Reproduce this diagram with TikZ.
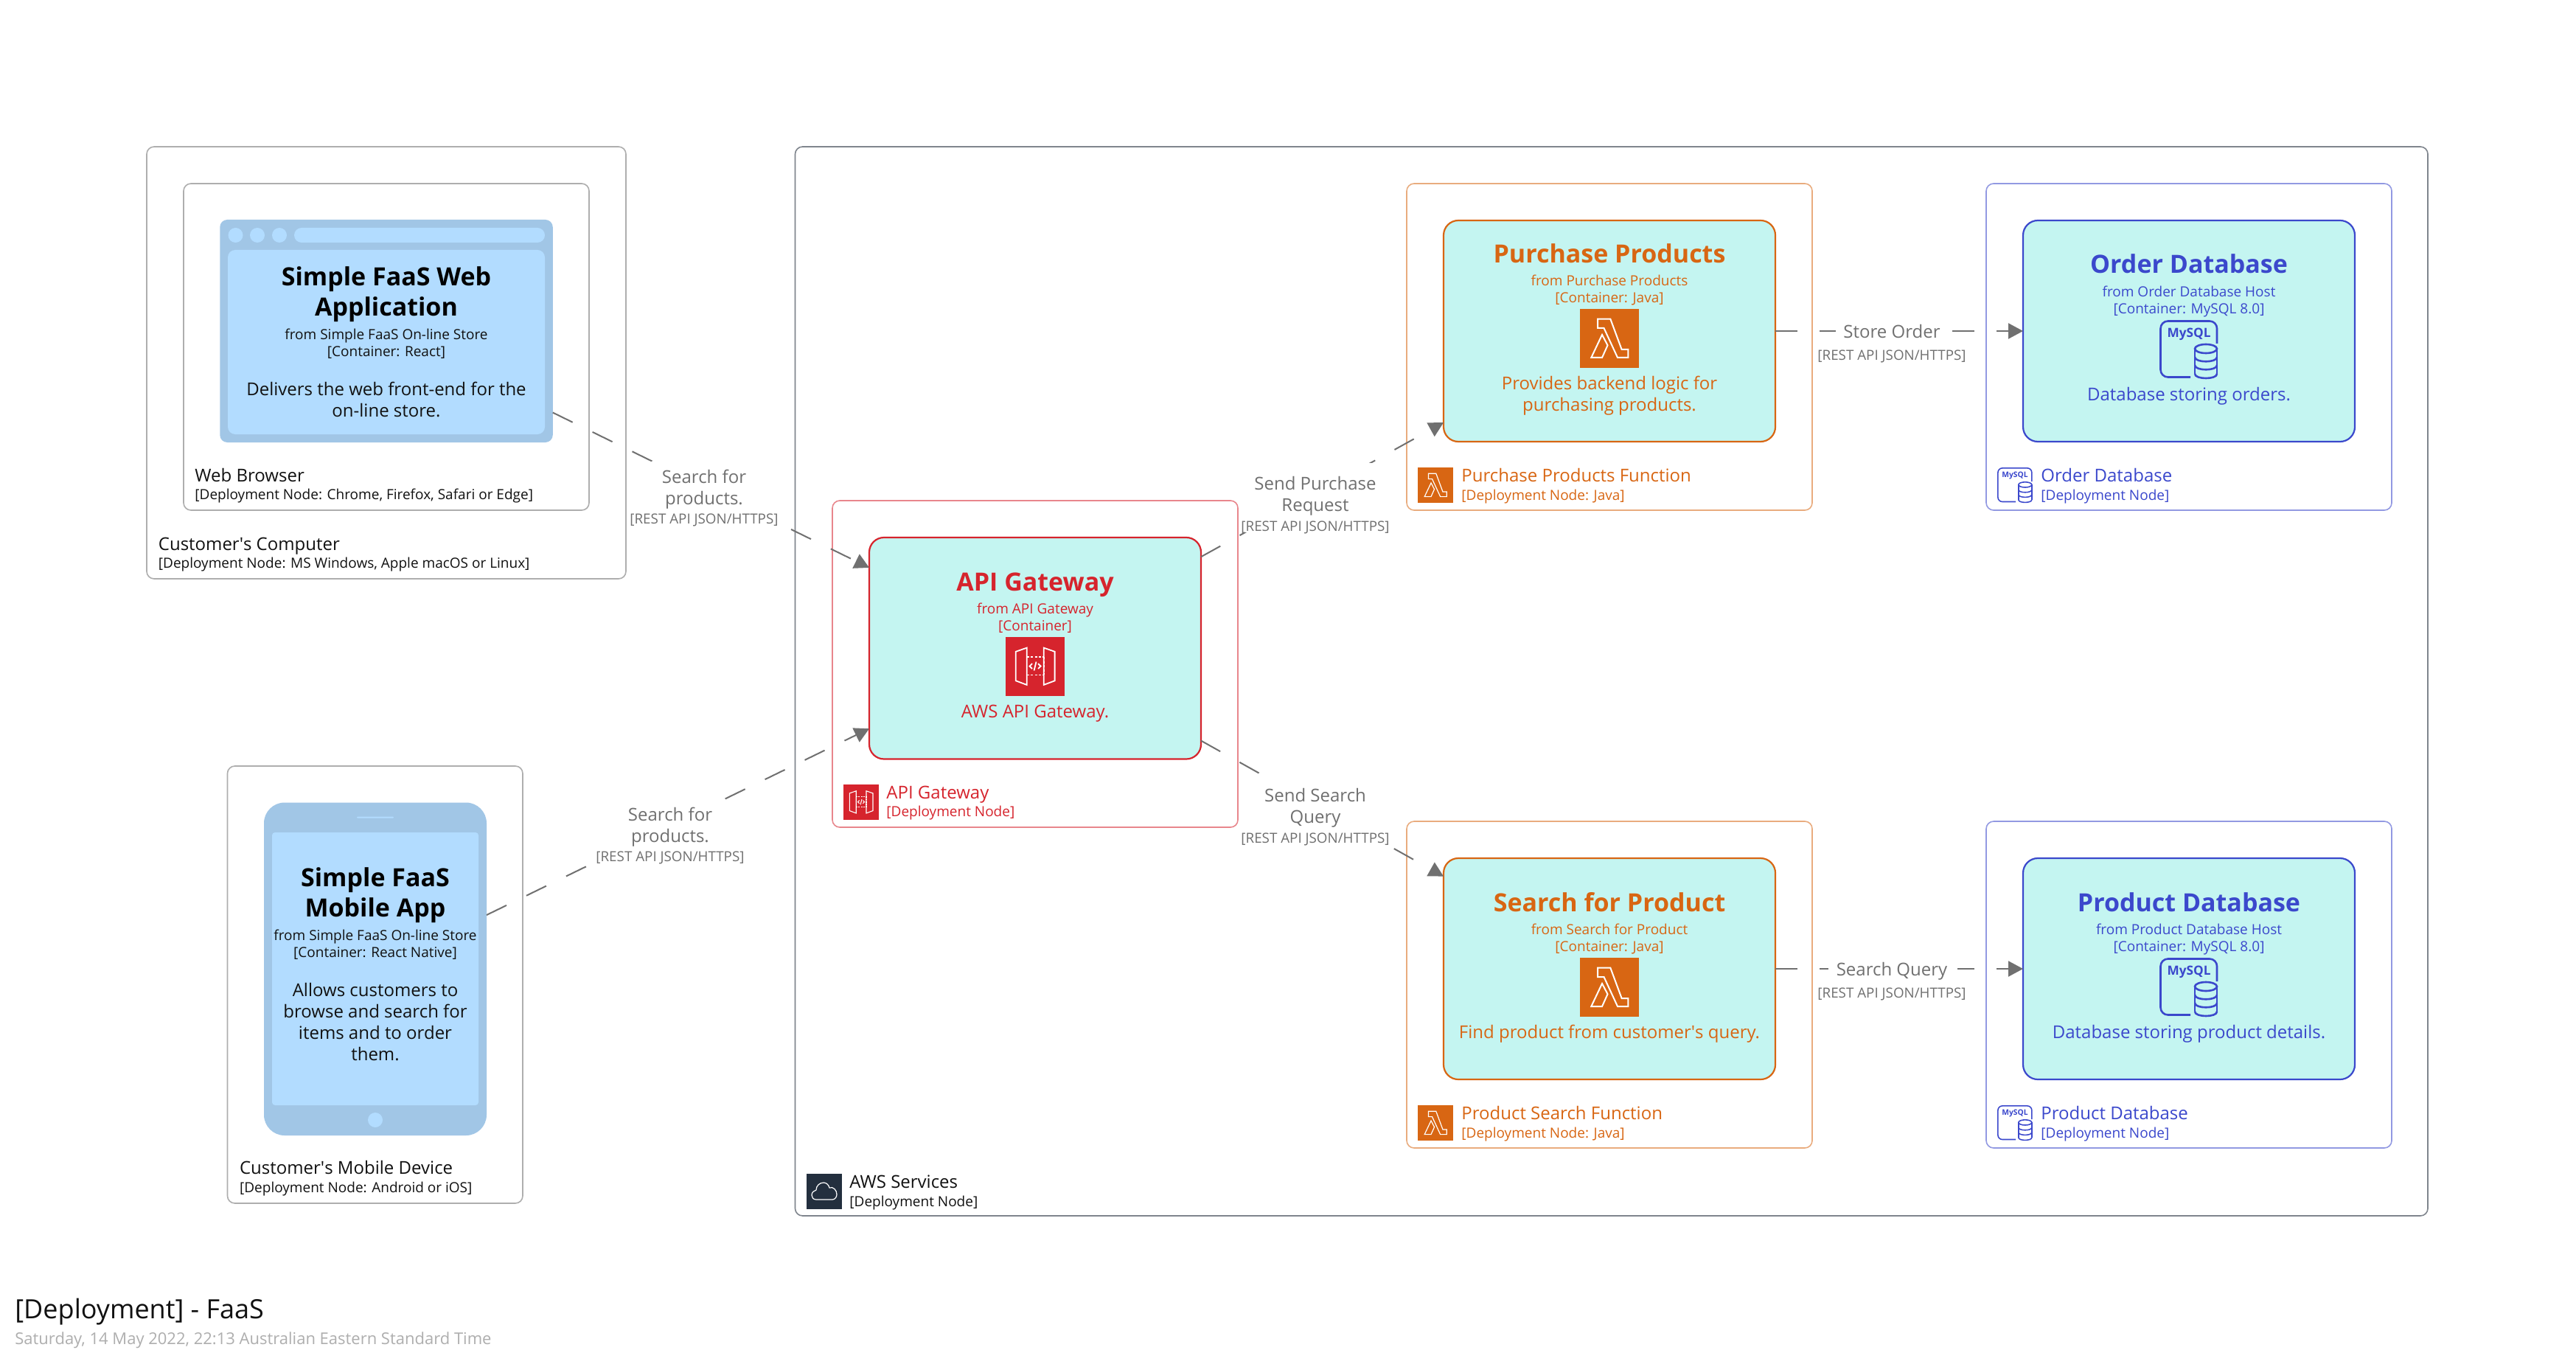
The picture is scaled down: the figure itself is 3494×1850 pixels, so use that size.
\documentclass[tikz,border=0pt]{standalone}
\usepackage{fontspec}
\setmainfont{Open Sans}
\usetikzlibrary{arrows.meta}
\definecolor{cyanfill}{HTML}{C4F5F1}
\definecolor{webfill}{HTML}{B2DCFF}
\definecolor{webframe}{HTML}{A1C6E6}
\definecolor{redc}{HTML}{D6242D}
\definecolor{redl}{HTML}{E8868C}
\definecolor{orc}{HTML}{D86613}
\definecolor{orl}{HTML}{E9AC7E}
\definecolor{bluec}{HTML}{3B48CC}
\definecolor{bluel}{HTML}{9299E2}
\definecolor{grayb}{HTML}{AEAEAE}
\definecolor{awsd}{HTML}{232F3E}
\definecolor{awsl}{HTML}{7F858D}
\definecolor{linec}{HTML}{707070}
\definecolor{textk}{HTML}{111111}
\tikzset{
  dbox/.style n args={3}{rectangle,draw=#1,fill=white,rounded corners=5pt,line width=0.8pt,inner sep=0pt,outer sep=0pt,minimum width=#2,minimum height=#3},
  card/.style={rectangle,draw=#1,fill=cyanfill,rounded corners=10pt,line width=1.1pt,inner sep=0pt,outer sep=0pt,minimum width=225pt,minimum height=150pt},
  flat/.style n args={4}{rectangle,fill=#1,rounded corners=#2,inner sep=0pt,outer sep=0pt,minimum width=#3,minimum height=#4},
  iconsq/.style={rectangle,fill=#1,inner sep=0pt,outer sep=0pt},
  ttl/.style={yshift=-1.75pt,align=center,text=#1,inner sep=0pt,font=\bfseries\fontsize{17}{20.5}\selectfont},
  frm/.style={yshift=-1pt,align=center,text=#1,inner sep=0pt,font=\fontsize{9.5}{11.5}\selectfont},
  dsc/.style={yshift=-1.5pt,align=center,text=#1,inner sep=0pt,font=\fontsize{12}{14.6}\selectfont},
  dname/.style={yshift=-1.5pt,anchor=west,text=#1,inner sep=0pt,font=\fontsize{12}{14.5}\selectfont},
  dmeta/.style={yshift=-1.25pt,anchor=west,text=#1,inner sep=0pt,font=\fontsize{9.5}{12}\selectfont},
  lname/.style={yshift=-1.5pt,align=center,text=linec,inner sep=0pt,font=\fontsize{12}{14.5}\selectfont},
  lmeta/.style={yshift=-1.25pt,align=center,text=linec,inner sep=0pt,font=\fontsize{9.4}{12}\selectfont},
  lblank/.style n args={2}{rectangle,fill=white,inner sep=0pt,outer sep=0pt,minimum width=#1,minimum height=#2},
  conn/.style={draw=linec,line width=1pt,dash pattern=on 15pt off 15pt,-{Triangle[length=10pt,width=10.5pt,sep=0pt]}},
}
% lambda glyph: origin x, origin y, scale (80 units = full icon)
\newcommand\lambdaglyph[3]{\begin{scope}[shift={(#1,#2)},x=#3*0.5pt,y=-#3*0.5pt,draw=white,line width=#3*1pt,line join=miter]
  \draw (24,13.7) -- (41.3,13.7) -- (56.6,55) -- (65.4,55) -- (65.4,66) -- (51,66) -- (32.5,26) -- (24,26) -- cycle;
  \draw (30,35) -- (37.5,49.3) -- (30,66) -- (15.3,66) -- cycle;
\end{scope}}
\newcommand\gateglyph[3]{\begin{scope}[shift={(#1,#2)},x=#3*0.5pt,y=-#3*0.5pt,draw=white,line width=#3*0.9pt,line join=miter]
  \draw (13.8,19.8) -- (28.7,14.6) -- (28.7,64.9) -- (13.8,59.3) -- cycle;
  \draw (51.7,14.6) -- (66.6,19.8) -- (66.6,59.3) -- (51.7,64.9) -- cycle;
  \draw[dash pattern=on #3*1.5pt off #3*1.2pt] (28.7,27.3) -- (51.7,27.3);
  \draw[dash pattern=on #3*1.5pt off #3*1.2pt] (28.7,51.4) -- (51.7,51.4);
  \draw[dash pattern=on #3*1.5pt off #3*1.2pt] (51.7,27.3) -- (51.7,51.4);
  \draw (36,36) -- (32.5,39.5) -- (36,43);
  \draw (44,36) -- (47.5,39.5) -- (44,43);
  \draw (41.5,33.5) -- (38.5,45.5);
\end{scope}}
% MySQL glyph: origin x, origin y, scale, name
\newcommand\mysqlglyph[4]{\begin{scope}[shift={(#1,#2)},x=#3*0.5pt,y=-#3*0.5pt,draw=bluec,line width=#3*1.3pt]
  \pgfmathsetmacro\myfs{#3*8.6}
  \draw[rounded corners=#3*5pt] (78,32) -- (78,1.5) -- (1.5,1.5) -- (1.5,77.5) -- (42,77.5);
  \node[text=bluec,inner sep=0pt,font=\bfseries\fontsize{\myfs}{\myfs}\selectfont] (#4) at (40,19) {MySQL};
  \draw (63,39) ellipse [x radius=15,y radius=6];
  \draw (48,39) -- (48,73) (78,39) -- (78,73);
  \foreach \yy in {50.3,61.3,73}{\draw (48,\yy) .. controls (48,\yy+8) and (78,\yy+8) .. (78,\yy);}
\end{scope}}
\begin{document}
\begin{tikzpicture}[x=0.5pt,y=-0.5pt]
\useasboundingbox (0,0) rectangle (3494,1850);
\fill[white] (0,0) rectangle (3494,1850);
% deployment boxes
\node[dbox={grayb}{325pt}{293pt}] (computer) at (524,492) {};
\node[dbox={grayb}{275pt}{221.5pt}] (browser) at (524,470.5) {};
\node[dbox={grayb}{200.25pt}{296.5pt}] (device) at (508.75,1335.5) {};
\node[dbox={awsl}{1107.25pt}{725pt}] (aws) at (2185.75,924) {};
\node[dbox={redl}{275pt}{221.5pt}] (gwhost) at (1404,900.5) {};
\node[dbox={orl}{275pt}{221.5pt}] (purhost) at (2183,470.5) {};
\node[dbox={orl}{275pt}{221.5pt}] (srchost) at (2183,1335.5) {};
\node[dbox={bluel}{275pt}{221.5pt}] (ordhost) at (2969,470.5) {};
\node[dbox={bluel}{275pt}{221.5pt}] (prdhost) at (2969,1335.5) {};
% web application
\node[flat={webframe}{5pt}{225.75pt}{151pt}] (webapp) at (524,449) {};
\node[flat={webfill}{5pt}{215pt}{125pt}] (webpanel) at (524,464) {};
\node[flat={webfill}{5pt}{170pt}{10pt}] (webbar) at (569,319) {};
\node[flat={webfill}{5pt}{10pt}{10pt}] (webdot1) at (319.5,319) {};
\node[flat={webfill}{5pt}{10pt}{10pt}] (webdot2) at (349,319) {};
\node[flat={webfill}{5pt}{10pt}{10pt}] (webdot3) at (379,319) {};
% mobile app
\node[flat={webframe}{14pt}{151pt}{225.75pt}] (mobile) at (509,1314.25) {};
\node[flat={webfill}{2pt}{140pt}{185pt}] (mobpanel) at (509,1314) {};
\node[flat={webfill}{0.5pt}{25pt}{1pt}] (mobspeaker) at (509,1108.7) {};
\node[flat={webfill}{5pt}{10pt}{10pt}] (mobhome) at (509,1519) {};
% cards
\node[card=redc,minimum height=150.25pt] (gateway) at (1404,879.25) {};
\node[card=orc] (purchase) at (2183,449) {};
\node[card=orc] (search) at (2183,1314) {};
\node[card=bluec] (orderdb) at (2969,449) {};
\node[card=bluec] (productdb) at (2969,1314) {};
% connectors
\draw[conn] (webapp) -- (gateway);
\draw[conn] (mobile) -- (gateway);
\draw[conn] (gateway) -- (purchase);
\draw[conn] (gateway) -- (search);
\draw[conn] (purchase) -- (orderdb);
\draw[conn] (search) -- (productdb);
% label backgrounds
\node[lblank={102.5pt}{45pt}] (blank1) at (955.5,671) {};
\node[lblank={103.5pt}{42.5pt}] (blank2) at (908.5,1132.5) {};
\node[lblank={100pt}{47pt}] (blank3) at (1784,675) {};
\node[lblank={100pt}{47pt}] (blank4) at (1784,1103) {};
\node[lblank={79pt}{16pt}] (blank5) at (2569,450) {};
\node[lblank={87.5pt}{16pt}] (blank6) at (2567.5,1315) {};
% connector labels
\node[lname] (lab1) at (955,661.3) {\strut Search for\\\strut products.};
\node[lmeta] (lab1m) at (955,703) {\strut [REST API JSON/HTTPS]};
\node[lname] (lab2) at (909,1119.5) {\strut Search for\\\strut products.};
\node[lmeta] (lab2m) at (909,1161) {\strut [REST API JSON/HTTPS]};
\node[lname] (lab3) at (1784,670.3) {\strut Send Purchase\\\strut Request};
\node[lmeta] (lab3m) at (1784,713) {\strut [REST API JSON/HTTPS]};
\node[lname] (lab4) at (1784,1093.5) {\strut Send Search\\\strut Query};
\node[lmeta] (lab4m) at (1784,1136) {\strut [REST API JSON/HTTPS]};
\node[lname] (lab5) at (2566,450) {\strut Store Order};
\node[lmeta] (lab5m) at (2566,481) {\strut [REST API JSON/HTTPS]};
\node[lname] (lab6) at (2566,1315) {\strut Search Query};
\node[lmeta] (lab6m) at (2566,1346) {\strut [REST API JSON/HTTPS]};
% web text
\node[ttl=black] (webt) at (524,396.75) {\strut Simple FaaS Web\\\strut Application};
\node[frm=textk] (webf) at (524,465.5) {\strut from Simple FaaS On-line Store\\\strut [Container: React]};
\node[dsc=textk] (webd) at (524,542.5) {\strut Delivers the web front-end for the\\\strut on-line store.};
\node[dname=textk] (brn) at (264,645) {\strut Web Browser};
\node[dmeta=textk] (brm) at (264,670) {\strut [Deployment Node: Chrome, Firefox, Safari or Edge]};
\node[dname=textk] (con) at (214.5,737.5) {\strut Customer\textquotesingle s Computer};
\node[dmeta=textk] (com) at (214.5,763) {\strut [Deployment Node: MS Windows, Apple macOS or Linux]};
% mobile text
\node[ttl=black] (mobt) at (509,1211.5) {\strut Simple FaaS\\\strut Mobile App};
\node[frm=textk] (mobf) at (509,1280.5) {\strut from Simple FaaS On-line Store\\\strut [Container: React Native]};
\node[dsc=textk] (mobd) at (509,1386) {\strut Allows customers to\\\strut browse and search for\\\strut items and to order\\\strut them.};
\node[dname=textk] (den) at (324.7,1584) {\strut Customer\textquotesingle s Mobile Device};
\node[dmeta=textk] (dem) at (324.7,1610) {\strut [Deployment Node: Android or iOS]};
% gateway
\node[ttl=redc] (gwt) at (1404,790) {\strut API Gateway};
\node[frm=redc] (gwf) at (1404,837.5) {\strut from API Gateway\\\strut [Container]};
\node[iconsq=redc,minimum size=40pt] (gwicon) at (1404,904) {};
\gateglyph{1364}{864}{1}
\node[dsc=redc] (gwd) at (1404,965) {\strut AWS API Gateway.};
\node[iconsq=redc,minimum size=24pt] (gwsmall) at (1168,1088) {};
\gateglyph{1144}{1064}{0.6}
\node[dname=redc] (gwn) at (1202,1075) {\strut API Gateway};
\node[dmeta=redc] (gwm) at (1202,1100.6) {\strut [Deployment Node]};
% purchase
\node[ttl=orc] (put) at (2183,345) {\strut Purchase Products};
\node[frm=orc] (puf) at (2183,392) {\strut from Purchase Products\\\strut [Container: Java]};
\node[iconsq=orc,minimum size=40pt] (puicon) at (2183,459) {};
\lambdaglyph{2143}{419}{1}
\node[dsc=orc] (pud) at (2183,534) {\strut Provides backend logic for\\\strut purchasing products.};
\node[iconsq=orc,minimum size=24pt] (pusmall) at (1947,658) {};
\lambdaglyph{1923}{634}{0.6}
\node[dname=orc] (pun) at (1982,645) {\strut Purchase Products Function};
\node[dmeta=orc] (pum) at (1982,671) {\strut [Deployment Node: Java]};
% search
\node[ttl=orc] (set) at (2183,1225) {\strut Search for Product};
\node[frm=orc] (sef) at (2183,1272) {\strut from Search for Product\\\strut [Container: Java]};
\node[iconsq=orc,minimum size=40pt] (seicon) at (2183,1339) {};
\lambdaglyph{2143}{1299}{1}
\node[dsc=orc] (sed) at (2183,1400) {\strut Find product from customer\textquotesingle s query.};
\node[iconsq=orc,minimum size=24pt] (sesmall) at (1947,1523) {};
\lambdaglyph{1923}{1499}{0.6}
\node[dname=orc] (sen) at (1982,1510) {\strut Product Search Function};
\node[dmeta=orc] (sem) at (1982,1535.7) {\strut [Deployment Node: Java]};
% order db
\node[ttl=bluec] (ort) at (2969,359) {\strut Order Database};
\node[frm=bluec] (orf) at (2969,407) {\strut from Order Database Host\\\strut [Container: MySQL 8.0]};
\mysqlglyph{2929}{434}{1}{ormy}
\node[dsc=bluec] (ord) at (2969,535) {\strut Database storing orders.};
\mysqlglyph{2709}{634}{0.6}{ormys}
\node[dname=bluec] (orn) at (2768,645) {\strut Order Database};
\node[dmeta=bluec] (orm) at (2768,671) {\strut [Deployment Node]};
% product db
\node[ttl=bluec] (prt) at (2969,1225) {\strut Product Database};
\node[frm=bluec] (prf) at (2969,1272) {\strut from Product Database Host\\\strut [Container: MySQL 8.0]};
\mysqlglyph{2929}{1299}{1}{prmy}
\node[dsc=bluec] (prd) at (2969,1400) {\strut Database storing product details.};
\mysqlglyph{2709}{1499}{0.6}{prmys}
\node[dname=bluec] (prn) at (2768,1510) {\strut Product Database};
\node[dmeta=bluec] (prm) at (2768,1535.7) {\strut [Deployment Node]};
% aws
\node[iconsq=awsd,minimum size=24pt] (awsicon) at (1118,1616) {};
\begin{scope}[shift={(1094,1592)},draw=white,line width=0.6pt]
  \draw (13,35) .. controls (9,35) and (7,32) .. (7,29) .. controls (7,25) and (10,23) .. (13,22) .. controls (13,16) and (18,12) .. (23,12) .. controls (27,12) and (30,15) .. (31,19) .. controls (36,17) and (41,22) .. (41,28) .. controls (41,32) and (38,35) .. (35,35) -- cycle;
\end{scope}
\node[dname=textk] (awn) at (1152,1603) {\strut AWS Services};
\node[dmeta=textk] (awm) at (1152,1629) {\strut [Deployment Node]};
% title
\node[anchor=west,yshift=-1.5pt,text=textk,inner sep=0pt,font=\fontsize{18}{21}\selectfont] (title) at (20,1776.7) {\strut [Deployment] - FaaS};
\node[anchor=west,yshift=-1pt,text=grayb,inner sep=0pt,font=\fontsize{11}{13}\selectfont] (dateline) at (20,1816.7) {\strut Saturday, 14 May 2022, 22:13 Australian Eastern Standard Time};
\end{tikzpicture}
\end{document}
